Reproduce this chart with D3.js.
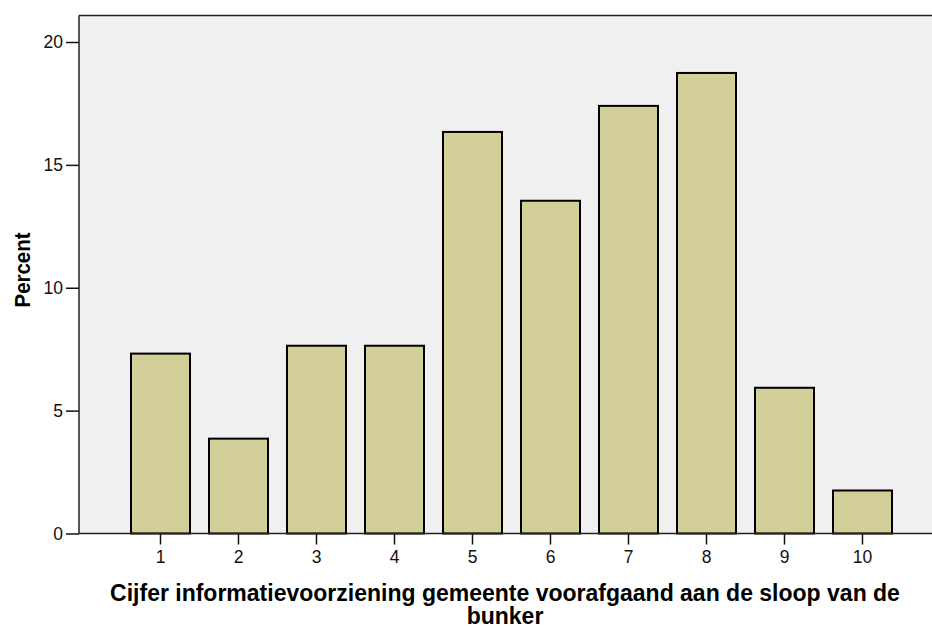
<!DOCTYPE html>
<html>
<head>
<meta charset="utf-8">
<script src="https://cdn.jsdelivr.net/npm/d3@7"></script>
<style>
  html, body { margin: 0; padding: 0; background: #fff; }
  svg { display: block; font-family: "Liberation Sans", Arial, sans-serif; }
</style>
</head>
<body>
<div id="chart"></div>
<script>
// Grades 1..10 and the share of respondents (percent) giving each grade
const GRADES = ["1", "2", "3", "4", "5", "6", "7", "8", "9", "10"];
const PERCENT = [7.32, 3.86, 7.64, 7.64, 16.34, 13.54, 17.4, 18.74, 5.93, 1.75];
const Y_TICKS = [0, 5, 10, 15, 20];

const width = 932;
const height = 628;
const plot = { left: 79, top: 15.5, right: 932, bottom: 533.5 };

const svg = d3.select("#chart")
  .append("svg")
  .attr("width", width)
  .attr("height", height);

const x = d3.scaleBand()
  .domain(GRADES)
  .range([121.5, 901.5])
  .paddingInner(0.2436)
  .paddingOuter(0.1218);

const y = d3.scaleLinear()
  .domain([0, 20])
  .range([plot.bottom, 42]);

// plot background
svg.append("rect")
  .attr("x", plot.left).attr("y", plot.top)
  .attr("width", plot.right - plot.left)
  .attr("height", plot.bottom - plot.top)
  .attr("fill", "#f0f0f0");

svg.append("line")
  .attr("x1", plot.left).attr("x2", plot.right)
  .attr("y1", plot.top).attr("y2", plot.top)
  .attr("stroke", "#222").attr("stroke-width", 1.5);

svg.selectAll("rect.bar")
  .data(PERCENT)
  .join("rect")
  .attr("class", "bar")
  .attr("x", (d, i) => x(GRADES[i]))
  .attr("width", x.bandwidth())
  .attr("y", (d) => y(d))
  .attr("height", (d) => y(0) - y(d))
  .attr("fill", "#d3cf98")
  .attr("stroke", "#000")
  .attr("stroke-width", 2);

// y axis
const yAxis = svg.append("g")
  .attr("transform", `translate(${plot.left},0)`)
  .call(d3.axisLeft(y).tickValues(Y_TICKS).tickSize(13).tickPadding(3));
yAxis.select(".domain").remove();
yAxis.append("line")
  .attr("x1", 0).attr("x2", 0)
  .attr("y1", plot.top).attr("y2", plot.bottom)
  .attr("stroke", "#222").attr("stroke-width", 1.5);
yAxis.selectAll(".tick line").attr("stroke", "#111").attr("stroke-width", 1.5);
yAxis.selectAll(".tick text")
  .attr("font-size", 17.5).attr("fill", "#111")
  .attr("font-family", "Liberation Sans, Arial, sans-serif");

// x axis
const xAxis = svg.append("g")
  .attr("transform", `translate(0,${plot.bottom})`)
  .call(d3.axisBottom(x).tickSize(11).tickPadding(6));
xAxis.select(".domain").remove();
xAxis.append("line")
  .attr("x1", plot.left).attr("x2", plot.right)
  .attr("y1", 0).attr("y2", 0)
  .attr("stroke", "#222").attr("stroke-width", 1.5);
xAxis.selectAll(".tick line").attr("stroke", "#111").attr("stroke-width", 1.5);
xAxis.selectAll(".tick text")
  .attr("font-size", 17.5).attr("fill", "#111")
  .attr("font-family", "Liberation Sans, Arial, sans-serif");

// titles
const xTitle = svg.append("text")
  .attr("text-anchor", "middle")
  .attr("font-size", 23)
  .attr("font-weight", "bold")
  .attr("fill", "#000");
xTitle.append("tspan").attr("x", 505).attr("y", 601)
  .text("Cijfer informatievoorziening gemeente voorafgaand aan de sloop van de");
xTitle.append("tspan").attr("x", 505).attr("y", 624)
  .text("bunker");

svg.append("text")
  .attr("transform", "translate(29.5,270) rotate(-90)")
  .attr("text-anchor", "middle")
  .attr("font-size", 22)
  .attr("font-weight", "bold")
  .attr("fill", "#000")
  .attr("textLength", 75)
  .attr("lengthAdjust", "spacingAndGlyphs")
  .text("Percent");
</script>
</body>
</html>
